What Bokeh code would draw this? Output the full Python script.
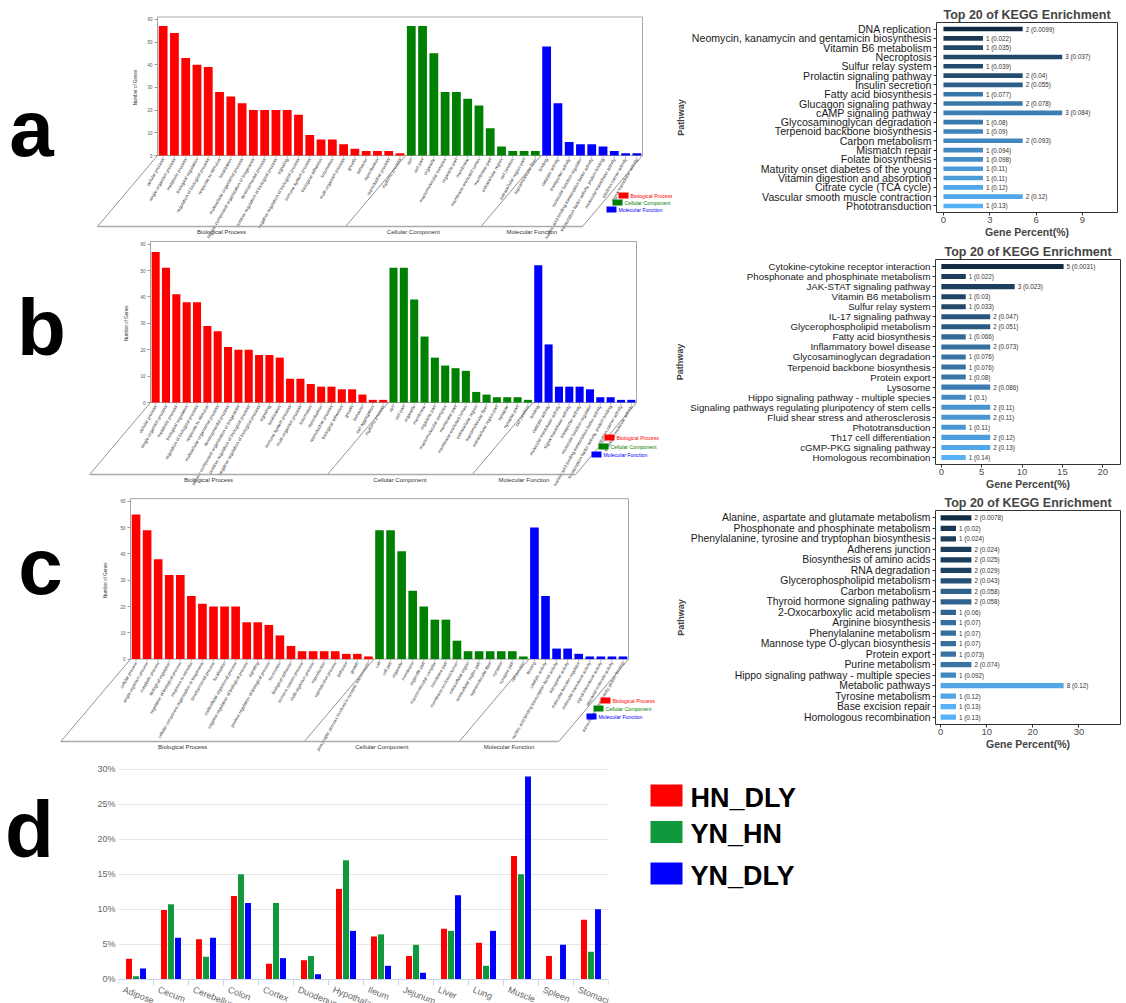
import math
from bokeh.plotting import figure
from bokeh.models import Range1d, FixedTicker, PrintfTickFormatter, FactorRange
from bokeh.layouts import column, row
from bokeh.embed import file_html
from bokeh.resources import INLINE
from bokeh.core.properties import value

FONT = "Liberation Sans"
RED, GREEN, BLUE = "#ff0000", "#008000", "#0000ff"

# ---------------- GO data (panel a) ----------------
a_bp_terms = ["cellular process", "single-organism process", "metabolic process", "biological regulation",
              "regulation of biological process", "response to stimulus", "localization",
              "multicellular organismal process", "cellular component organization or biogenesis",
              "developmental process", "positive regulation of biological process", "signaling",
              "negative regulation of biological process", "immune system process", "biological adhesion",
              "locomotion", "multi-organism process", "growth", "behavior", "reproduction",
              "reproductive process", "rhythmic process"]
a_bp_counts = [57, 54, 43, 40, 39, 28, 26, 23, 20, 20, 20, 20, 18, 9, 7, 7, 5, 3, 2, 2, 2, 1]
a_cc_terms = ["cell", "cell part", "organelle", "macromolecular complex", "organelle part", "membrane",
              "membrane-enclosed lumen", "membrane part", "extracellular region", "cell junction",
              "extracellular region part", "supramolecular fiber"]
a_cc_counts = [57, 57, 45, 28, 28, 25, 22, 12, 4, 2, 2, 2]
a_mf_terms = ["binding", "catalytic activity", "transporter activity", "molecular function regulator",
              "nucleic acid binding transcription factor activity",
              "transcription factor activity, protein binding", "molecular transducer activity",
              "electron carrier activity", "signal transducer activity"]
a_mf_counts = [48, 23, 6, 5, 5, 4, 2, 1, 1]

# ---------------- GO data (panel b) ----------------
b_bp_terms = ["cellular process", "single-organism process", "metabolic process", "biological regulation",
              "regulation of biological process", "response to stimulus", "multicellular organismal process",
              "developmental process", "cellular component organization or biogenesis",
              "positive regulation of biological process", "negative regulation of biological process",
              "signaling", "localization", "immune system process", "multi-organism process", "locomotion",
              "reproduction", "reproductive process", "biological adhesion", "growth", "behavior",
              "cell aggregation", "rhythmic process"]
b_bp_counts = [57, 51, 41, 38, 38, 29, 27, 21, 20, 20, 18, 18, 17, 9, 9, 7, 6, 6, 5, 5, 3, 1, 1]
b_cc_terms = ["cell", "cell part", "organelle", "membrane", "organelle part", "macromolecular complex",
              "membrane part", "membrane-enclosed lumen", "extracellular region", "supramolecular fiber",
              "extracellular region part", "synapse", "synapse part", "cell junction"]
b_cc_counts = [51, 51, 39, 25, 17, 14, 13, 12, 4, 3, 2, 2, 2, 1]
b_mf_terms = ["binding", "catalytic activity", "molecular transducer activity", "signal transducer activity",
              "transporter activity", "molecular function regulator",
              "nucleic acid binding transcription factor activity",
              "transcription factor activity, protein binding", "electron carrier activity",
              "structural molecule activity"]
b_mf_counts = [52, 22, 6, 6, 6, 5, 2, 2, 1, 1]

# ---------------- GO data (panel c) ----------------
c_bp_terms = ["cellular process", "single-organism process", "metabolic process", "biological regulation",
              "regulation of biological process", "response to stimulus",
              "cellular component organization or biogenesis", "developmental process", "localization",
              "multicellular organismal process", "negative regulation of biological process", "signaling",
              "positive regulation of biological process", "locomotion", "biological adhesion",
              "immune system process", "multi-organism process", "reproduction", "reproductive process",
              "behavior", "growth", "presynaptic process involved in synaptic transmission"]
c_bp_counts = [55, 49, 38, 32, 32, 24, 21, 20, 20, 20, 14, 14, 13, 9, 5, 3, 3, 3, 3, 2, 2, 1]
c_cc_terms = ["cell", "cell part", "organelle", "membrane", "organelle part", "macromolecular complex",
              "membrane part", "membrane-enclosed lumen", "extracellular region", "extracellular region part",
              "supramolecular fiber", "synapse", "synapse part", "cell junction"]
c_cc_counts = [49, 49, 41, 26, 20, 15, 15, 7, 3, 3, 3, 3, 3, 1]
c_mf_terms = ["binding", "catalytic activity", "nucleic acid binding transcription factor activity",
              "transporter activity", "molecular function regulator", "molecular transducer activity",
              "signal transducer activity", "structural molecule activity",
              "transcription factor activity, protein binding"]
c_mf_counts = [50, 24, 4, 4, 2, 1, 1, 1, 1]

# ---------------- KEGG data ----------------
ka_terms = ["DNA replication", "Neomycin, kanamycin and gentamicin biosynthesis", "Vitamin B6 metabolism",
            "Necroptosis", "Sulfur relay system", "Prolactin signaling pathway", "Insulin secretion",
            "Fatty acid biosynthesis", "Glucagon signaling pathway", "cAMP signaling pathway",
            "Glycosaminoglycan degradation", "Terpenoid backbone biosynthesis", "Carbon metabolism",
            "Mismatch repair", "Folate biosynthesis", "Maturity onset diabetes of the young",
            "Vitamin digestion and absorption", "Citrate cycle (TCA cycle)",
            "Vascular smooth muscle contraction", "Phototransduction"]
ka_counts = [2, 1, 1, 3, 1, 2, 2, 1, 2, 3, 1, 1, 2, 1, 1, 1, 1, 1, 2, 1]
ka_pct = [5.13, 2.56, 2.56, 7.69, 2.56, 5.13, 5.13, 2.56, 5.13, 7.69, 2.56, 2.56, 5.13, 2.56, 2.56,
          2.56, 2.56, 2.56, 5.13, 2.56]
ka_p = [0.0099, 0.022, 0.035, 0.037, 0.039, 0.04, 0.055, 0.077, 0.078, 0.084, 0.08, 0.09, 0.093, 0.094,
        0.098, 0.11, 0.11, 0.12, 0.12, 0.13]

kb_terms = ["Cytokine-cytokine receptor interaction", "Phosphonate and phosphinate metabolism",
            "JAK-STAT signaling pathway", "Vitamin B6 metabolism", "Sulfur relay system",
            "IL-17 signaling pathway", "Glycerophospholipid metabolism", "Fatty acid biosynthesis",
            "Inflammatory bowel disease", "Glycosaminoglycan degradation", "Terpenoid backbone biosynthesis",
            "Protein export", "Lysosome", "Hippo signaling pathway - multiple species",
            "Signaling pathways regulating pluripotency of stem cells", "Fluid shear stress and atherosclerosis",
            "Phototransduction", "Th17 cell differentiation", "cGMP-PKG signaling pathway",
            "Homologous recombination"]
kb_counts = [5, 1, 3, 1, 1, 2, 2, 1, 2, 1, 1, 1, 2, 1, 2, 2, 1, 2, 2, 1]
kb_pct = [15.15, 3.03, 9.09, 3.03, 3.03, 6.06, 6.06, 3.03, 6.06, 3.03, 3.03, 3.03, 6.06, 3.03, 6.06,
          6.06, 3.03, 6.06, 6.06, 3.03]
kb_p = [0.0031, 0.022, 0.023, 0.03, 0.033, 0.047, 0.051, 0.066, 0.073, 0.076, 0.076, 0.08, 0.086, 0.1,
        0.11, 0.11, 0.11, 0.12, 0.13, 0.14]

kc_terms = ["Alanine, aspartate and glutamate metabolism", "Phosphonate and phosphinate metabolism",
            "Phenylalanine, tyrosine and tryptophan biosynthesis", "Adherens junction",
            "Biosynthesis of amino acids", "RNA degradation", "Glycerophospholipid metabolism",
            "Carbon metabolism", "Thyroid hormone signaling pathway", "2-Oxocarboxylic acid metabolism",
            "Arginine biosynthesis", "Phenylalanine metabolism", "Mannose type O-glycan biosynthesis",
            "Protein export", "Purine metabolism", "Hippo signaling pathway - multiple species",
            "Metabolic pathways", "Tyrosine metabolism", "Base excision repair", "Homologous recombination"]
kc_counts = [2, 1, 1, 2, 2, 2, 2, 2, 2, 1, 1, 1, 1, 1, 2, 1, 8, 1, 1, 1]
kc_pct = [6.67, 3.33, 3.33, 6.67, 6.67, 6.67, 6.67, 6.67, 6.67, 3.33, 3.33, 3.33, 3.33, 3.33, 6.67,
          3.33, 26.67, 3.33, 3.33, 3.33]
kc_p = [0.0078, 0.02, 0.024, 0.024, 0.025, 0.029, 0.043, 0.058, 0.058, 0.06, 0.07, 0.07, 0.07, 0.073,
        0.074, 0.092, 0.12, 0.12, 0.13, 0.13]

# ---------------- tissue data (panel d) ----------------
tissues = ["Adipose", "Cecum", "Cerebellum", "Colon", "Cortex", "Duodenum", "Hypothalamus", "Ileum",
           "Jejunum", "Liver", "Lung", "Muscle", "Spleen", "Stomach"]
hn_dly = [2.9, 9.9, 5.7, 11.9, 2.2, 2.7, 12.9, 6.1, 3.3, 7.2, 5.2, 17.6, 3.3, 8.5]
yn_hn = [0.4, 10.7, 3.2, 15.0, 10.9, 3.3, 17.0, 6.4, 4.9, 6.9, 1.9, 15.0, 0.0, 3.9]
yn_dly = [1.5, 5.9, 5.9, 10.9, 3.0, 0.7, 6.9, 1.9, 0.9, 12.0, 6.9, 29.0, 4.9, 10.0]
series_names = ["HN_DLY", "YN_HN", "YN_DLY"]


def bare(p):
    p.frame_align = False
    return p


def go_panel(letter, bp_t, bp_c, cc_t, cc_c, mf_t, mf_c, W, H, box_l, box_r, zero_px, ppu,
             bottom_px, legend_px, letter_px, ylab_px, lab_fs="4.5px"):
    names = bp_t + cc_t + mf_t
    vals = bp_c + cc_c + mf_c
    n = len(names)
    cols = [RED] * len(bp_t) + [GREEN] * len(cc_t) + [BLUE] * len(mf_t)
    pitch = (box_r - box_l) / n
    xs0 = -0.5 - box_l / pitch
    ys1 = zero_px / ppu

    def X(px):
        return xs0 + px / pitch

    def Y(py):
        return ys1 - py / ppu

    p = figure(width=W, height=H, x_range=Range1d(xs0, xs0 + W / pitch),
               y_range=Range1d(ys1 - H / ppu, ys1), x_axis_location=None,
               toolbar_location=None, output_backend="svg",
               min_border_left=0, min_border_right=0, min_border_top=0, min_border_bottom=0)
    bare(p)
    p.outline_line_color = None
    p.grid.visible = False
    xs = list(range(n))
    p.quad(left=[-0.5], right=[n - 0.5], bottom=[0], top=[61], fill_color=None,
           line_color="#a6a6a6", line_width=1)
    p.vbar(x=xs, top=vals, width=0.78, fill_color=cols, line_color=None)
    p.segment(x0=xs, y0=[0] * n, x1=xs, y1=[-2.5 / ppu] * n, line_color="#888888", line_width=0.6)
    p.text(x=xs, y=[-3 / ppu] * n, text=names, angle=1.05, text_align="right",
           text_baseline="middle", text_font=value(FONT), text_font_size=lab_fs, text_color="#2a2a2a")
    depth = bottom_px - zero_px
    dx = -depth * 0.845 / pitch
    yb = Y(bottom_px)
    seps = [-0.5, len(bp_t) - 0.5, len(bp_t) + len(cc_t) - 0.5, n - 0.5]
    p.segment(x0=seps, y0=[0] * 4, x1=[s + dx for s in seps], y1=[yb] * 4,
              line_color="#666666", line_width=0.7)
    p.segment(x0=[seps[0] + dx], y0=[yb], x1=[seps[3] + dx], y1=[yb],
              line_color="#aaaaaa", line_width=1.6)
    mids = [(seps[k] + seps[k + 1]) / 2 + dx for k in range(3)]
    p.text(x=mids, y=[Y(bottom_px + 2.5)] * 3,
           text=["Biological Process", "Cellular Component", "Molecular Function"],
           text_align="center", text_baseline="top", text_font=value(FONT),
           text_font_size="6px", text_color="#333333")
    lx = [X(c[0]) for c in legend_px]
    ly = [Y(c[1]) for c in legend_px]
    p.rect(x=lx, y=ly, width=10 / pitch, height=6 / ppu, fill_color=[RED, GREEN, BLUE], line_color=None)
    p.text(x=[X(c[0] + 7) for c in legend_px], y=ly,
           text=["Biological Process", "Cellular Component", "Molecular Function"],
           text_color=[RED, GREEN, BLUE], text_align="left", text_baseline="middle",
           text_font=value(FONT), text_font_size="5.2px")
    p.text(x=[X(ylab_px)], y=[30], text=["Number of Genes"], angle=math.pi / 2, text_align="center",
           text_baseline="middle", text_font=value(FONT), text_font_size="4.5px", text_color="#333333")
    p.text(x=[X(letter_px[0])], y=[Y(letter_px[1])], text=[letter], text_align="center",
           text_baseline="alphabetic", text_font=value(FONT), text_font_size="80px",
           text_font_style="bold", text_color="#000000")
    ax = p.yaxis[0]
    ax.fixed_location = -0.5
    ax.ticker = FixedTicker(ticks=[0, 10, 20, 30, 40, 50, 60])
    ax.axis_line_color = None
    ax.major_tick_out = 3
    ax.major_tick_in = 0
    ax.minor_tick_out = 0
    ax.minor_tick_in = 0
    ax.major_tick_line_color = "#999999"
    ax.major_label_text_font_size = "4.5px"
    ax.major_label_text_color = "#555555"
    ax.major_label_text_font = FONT
    ax.major_label_standoff = 2
    return p


def grad(pv, lo=(0x13, 0x2B, 0x43), hi=(0x56, 0xB1, 0xF7)):
    mn, mx = min(pv), max(pv)
    out = []
    for v in pv:
        t = (v - mn) / (mx - mn)
        c = [round(lo[k] + t * (hi[k] - lo[k])) for k in range(3)]
        out.append("#%02x%02x%02x" % tuple(c))
    return out


def kegg_panel(terms, counts, pct, pv, W, H, ml, mr, mt, xr, xticks, lab_fs, ax_standoff):
    colors = grad(pv)
    factors = terms[::-1]
    p = figure(width=W, height=H, y_range=FactorRange(factors=factors, range_padding=0.2,
                                                      range_padding_units="absolute"),
               x_range=Range1d(*xr), toolbar_location=None, output_backend="svg",
               min_border_left=ml, min_border_right=mr, min_border_top=mt, min_border_bottom=0,
               title="Top 20 of KEGG Enrichment")
    bare(p)
    p.title.align = "center"
    p.title.text_font = FONT
    p.title.text_font_size = "12.5px"
    p.title.text_font_style = "bold"
    p.title.standoff = 2
    p.hbar(y=terms, left=0, right=pct, height=0.5, fill_color=colors, line_color=None)
    labels = ["%d (%s)" % (c, v) for c, v in zip(counts, pv)]
    p.text(x=pct, y=terms, text=labels, x_offset=3, text_baseline="middle", text_align="left",
           text_font=value(FONT), text_font_size="6.3px", text_color="#333333")
    p.outline_line_color = "#333333"
    p.outline_line_width = 1
    p.grid.visible = False
    xa = p.xaxis[0]
    xa.ticker = FixedTicker(ticks=xticks)
    xa.axis_label = "Gene Percent(%)"
    xa.axis_label_text_font = FONT
    xa.axis_label_text_font_style = "bold"
    xa.axis_label_text_font_size = "10.5px"
    xa.axis_label_standoff = 0
    xa.major_label_text_font = FONT
    xa.major_label_text_font_size = "9.5px"
    xa.major_label_text_color = "#4d4d4d"
    xa.major_label_standoff = 1
    xa.major_tick_out = 3
    xa.major_tick_in = 0
    xa.minor_tick_out = 0
    xa.minor_tick_in = 0
    xa.axis_line_color = None
    xa.major_tick_line_color = "#333333"
    ya = p.yaxis[0]
    ya.axis_label = "Pathway"
    ya.axis_label_text_font = FONT
    ya.axis_label_text_font_style = "bold"
    ya.axis_label_text_font_size = "9px"
    ya.axis_label_standoff = ax_standoff
    ya.major_label_text_font = FONT
    ya.major_label_text_font_size = lab_fs
    ya.major_label_text_color = "#1a1a1a"
    ya.major_label_standoff = 2
    ya.major_tick_out = 3
    ya.major_tick_in = 0
    ya.axis_line_color = None
    ya.major_tick_line_color = "#333333"
    return p


go_a = go_panel("a", a_bp_terms, a_bp_counts, a_cc_terms, a_cc_counts, a_mf_terms, a_mf_counts,
                672, 240, 157, 642, 155, 2.27, 226, [(623, 195), (617, 202), (611, 209)], (31, 128), 135)
go_b = go_panel("b", b_bp_terms, b_bp_counts, b_cc_terms, b_cc_counts, b_mf_terms, b_mf_counts,
                672, 252, 150, 636, 162, 2.64, 234, [(609, 197), (603, 206), (596, 214)], (41, 87), 126)
go_c = go_panel("c", c_bp_terms, c_bp_counts, c_cc_terms, c_cc_counts, c_mf_terms, c_mf_counts,
                672, 260, 130, 628, 166.6, 2.63, 249, [(605, 208), (598, 216), (591, 224)], (40, 74), 105,
                lab_fs="4.3px")

kg_a = kegg_panel(ka_terms, ka_counts, ka_pct, ka_p, 454, 240, 261, 9, 22, (-0.45, 11.27),
                  [0, 3, 6, 9], "10.6px", 3)
kg_b = kegg_panel(kb_terms, kb_counts, kb_pct, kb_p, 454, 252, 257, 6, 19, (-0.72, 22.2),
                  [0, 5, 10, 15, 20], "9.7px", 2)
kg_c = kegg_panel(kc_terms, kc_counts, kc_pct, kc_p, 454, 260, 257, 6, 18, (-1.11, 39.0),
                  [0, 10, 20, 30], "10.4px", 2)

# ---------------- panel d ----------------
DH = 251
zero_d = 226.6
ppu_d = 6.99

pletter = figure(width=90, height=DH, x_range=Range1d(0, 90), y_range=Range1d(DH, 0),
                 x_axis_location=None, y_axis_location=None, toolbar_location=None, output_backend="svg",
                 min_border_left=0, min_border_right=0, min_border_top=0, min_border_bottom=0)
bare(pletter)
pletter.outline_line_color = None
pletter.grid.visible = False
pletter.text(x=[29], y=[77], text=["d"], text_align="center", text_baseline="alphabetic",
             text_font=value(FONT), text_font_size="80px", text_font_style="bold", text_color="#000000")

pd_ = figure(width=550, height=DH, x_range=Range1d(-0.5, 13.5),
             y_range=Range1d(-(DH - zero_d) / ppu_d, zero_d / ppu_d),
             toolbar_location=None, output_backend="svg",
             min_border_left=28, min_border_right=32, min_border_top=0, min_border_bottom=0)
bare(pd_)
pd_.outline_line_color = None
d_colors = ["#ff0000", "#10983c", "#0000ff"]
offs = [-0.2, 0.0, 0.2]
for vals, col, off in zip([hn_dly, yn_hn, yn_dly], d_colors, offs):
    pd_.vbar(x=[i + off for i in range(len(tissues))], top=vals, width=0.17, fill_color=col,
             line_color=None)
yticker = FixedTicker(ticks=[0, 5, 10, 15, 20, 25, 30])
ya = pd_.yaxis[0]
ya.ticker = yticker
ya.formatter = PrintfTickFormatter(format="%d%%")
ya.axis_line_color = None
ya.major_tick_out = 0
ya.major_tick_in = 0
ya.minor_tick_out = 0
ya.minor_tick_in = 0
ya.major_tick_line_color = None
ya.minor_tick_line_color = None
ya.major_label_text_font = FONT
ya.major_label_text_font_size = "9px"
ya.major_label_text_color = "#666666"
ya.major_label_standoff = 3
pd_.ygrid.ticker = yticker
pd_.ygrid.grid_line_color = "#e6e6e6"
pd_.xgrid.visible = False
label_pos = [round(i - 0.36, 2) for i in range(len(tissues))]
xa = pd_.xaxis[0]
xa.fixed_location = 0
xa.ticker = FixedTicker(ticks=label_pos, minor_ticks=[i - 0.5 for i in range(len(tissues) + 1)])
xa.major_label_overrides = {t: name for t, name in zip(label_pos, tissues)}
xa.major_label_orientation = -0.38
xa.major_label_text_font = FONT
xa.major_label_text_font_size = "9px"
xa.major_label_text_color = "#666666"
xa.major_label_standoff = 4
xa.axis_line_color = "#ccd6eb"
xa.major_tick_out = 0
xa.major_tick_in = 0
xa.minor_tick_out = 6
xa.minor_tick_in = 0
xa.minor_tick_line_color = "#ccd6eb"

pl = figure(width=486, height=DH, x_range=Range1d(640, 1126), y_range=Range1d(DH, 0),
            x_axis_location=None, y_axis_location=None, toolbar_location=None, output_backend="svg",
            min_border_left=0, min_border_right=0, min_border_top=0, min_border_bottom=0)
bare(pl)
pl.outline_line_color = None
pl.grid.visible = False
pl.rect(x=[666] * 3, y=[43, 79.5, 121], width=32, height=22, fill_color=d_colors, line_color=None)
pl.text(x=[690] * 3, y=[45, 81, 123], text=series_names, text_align="left", text_baseline="middle",
        text_font=value(FONT), text_font_size="27px", text_font_style="bold", text_color="#000000")

layout = column(row(go_a, kg_a), row(go_b, kg_b), row(go_c, kg_c), row(pletter, pd_, pl))
open("out.html", "w").write(file_html(layout, INLINE))
